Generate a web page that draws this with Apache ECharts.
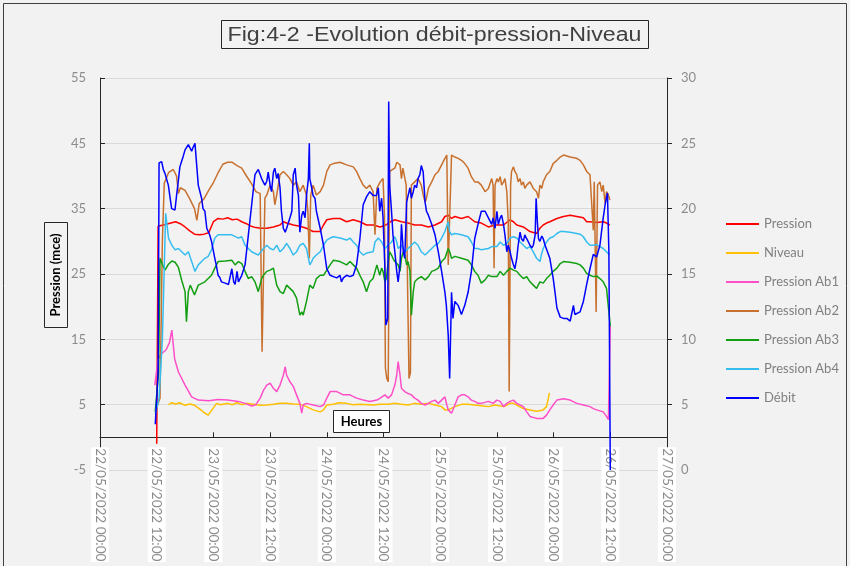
<!DOCTYPE html>
<html>
<head>
<meta charset="utf-8">
<script src="https://cdn.jsdelivr.net/npm/echarts@6/dist/echarts.min.js"></script>
<style>html,body{margin:0;padding:0;background:#f2f2f2;}#c{width:850px;height:566px;}</style>
</head>
<body>
<div id="c"></div>
<script>
// time in hours after 22/05/2022 12:00
const START_H = 12;
const xTickLabels = ['22/05/2022 00:00','22/05/2022 12:00','23/05/2022 00:00','23/05/2022 12:00','24/05/2022 00:00','24/05/2022 12:00','25/05/2022 00:00','25/05/2022 12:00','26/05/2022 00:00','26/05/2022 12:00','27/05/2022 00:00'];
const seriesNames = ['Pression','Niveau','Pression Ab1','Pression Ab2','Pression Ab3','Pression Ab4','Débit'];

const pression = [[0,-1],[0.3,32.3],[2,32.6],[3,32.8],[4,33.0],[5,32.7],[6,32.2],[7,31.6],[8,31.1],[9,31.0],[10,31.1],[11,31.3],[12,33.0],[13,33.5],[14,33.4],[15,33.6],[16,33.3],[17,33.4],[18,33.0],[19,32.7],[20,32.3],[21,32.1],[22,32.0],[23.3,32.0],[24.7,32.2],[26.1,32.5],[26.8,33.0],[27.5,32.8],[28.9,32.5],[30.3,32.3],[31.7,32.0],[33.1,31.5],[34.6,31.5],[35.3,32.5],[36,33.3],[37.4,33.5],[38.8,33.5],[40.2,33.0],[41.6,33.3],[43,33.0],[44.4,32.5],[45.8,32.5],[47.3,32.2],[48.5,32.5],[49.5,33.0],[50.4,33.3],[51.8,33.0],[53.2,32.8],[54.6,32.5],[56.0,32.5],[57.5,32.2],[58.9,32.5],[60.3,33.0],[61.0,33.8],[61.7,34.0],[62.4,33.5],[63.1,33.8],[64.5,33.5],[65.9,33.8],[67.3,33.0],[68.7,32.8],[70.2,32.2],[71.6,32.5],[73.4,32.5],[74.8,33.3],[75.5,33.0],[76.2,32.5],[77.6,32.2],[79.0,31.5],[80.4,31.2],[81.1,32.0],[81.8,32.5],[82.5,32.8],[83.2,33.0],[84.7,33.5],[86.1,33.8],[87.5,34.0],[88.9,33.8],[90.3,33.6],[91.0,33.0],[91.7,33.0],[93.1,32.9],[94.5,33.0],[95.2,32.8],[95.9,32.5]];

const niveau = [[2.5,5.0],[3.2,5.3],[4,5.1],[4.8,5.3],[6,4.9],[7,5.1],[8,4.9],[9,4.4],[10,3.8],[10.9,3.4],[12,4.5],[12.7,5.2],[13.5,5.0],[15,5.2],[16,5.0],[17,5.3],[18,5.0],[19,5.2],[20,5.1],[22,4.9],[23.3,4.95],[24.7,5.05],[26.1,5.2],[27.5,5.2],[28.9,5.1],[30.3,5.05],[31.7,4.7],[33.1,4.2],[34.6,3.9],[35.3,4.2],[36,4.95],[37.4,5.05],[38.5,5.3],[40.2,5.2],[41.5,5.0],[43,5.05],[45.8,4.95],[47.3,5.05],[49.0,5.05],[50.4,5.2],[51.8,5.05],[53.2,4.95],[54.6,5.2],[56.0,5.05],[57.5,5.2],[58.9,4.95],[60.3,4.7],[61.0,4.2],[61.7,4.2],[63.1,4.7],[64.5,5.05],[65.9,5.05],[67.3,4.95],[68.7,4.85],[70.2,4.7],[71.6,4.95],[72.0,5.05],[73.4,4.7],[74.1,4.95],[74.8,5.2],[75.5,5.2],[76.2,4.95],[77.6,4.4],[79.0,4.2],[80.4,4.0],[81.8,4.2],[82.5,4.7],[82.9,6.0],[83.1,6.8]];

const pressionAb1 = [[-0.4,8.0],[0.3,12.0],[1,12.8],[2,13.4],[2.7,14.5],[3.2,16.4],[3.8,12.0],[4.6,10.0],[6,8.0],[7.4,6.2],[8.8,5.7],[11,5.6],[13,5.8],[15,5.7],[17.3,5.5],[18.7,5.2],[20.1,4.8],[21,5.0],[21.9,6.0],[22.6,7.2],[23.3,8.0],[24.0,8.3],[24.7,7.5],[25.4,7.0],[26.1,8.0],[26.8,9.5],[27.2,10.8],[27.5,9.5],[28.2,8.5],[28.9,7.8],[29.6,6.5],[30.3,5.2],[30.7,3.7],[31.0,4.95],[31.7,5.2],[33.1,4.95],[34.6,4.7],[35.3,4.95],[36.0,6.0],[36.7,7.0],[38.1,7.0],[39.5,6.5],[40.9,6.5],[42.3,6.0],[43.7,5.7],[45.1,5.5],[46.6,5.7],[47.3,6.0],[48.3,6.5],[49.0,6.0],[49.7,6.5],[50.4,8.0],[50.8,9.5],[51.1,11.6],[51.5,9.5],[51.8,7.5],[52.5,7.0],[53.2,6.7],[53.9,6.5],[54.6,6.0],[55.3,5.7],[56.0,5.2],[56.8,4.95],[57.5,5.2],[58.2,5.5],[58.9,5.7],[59.6,5.2],[60.3,5.7],[61.0,6.2],[61.4,4.95],[61.7,4.2],[62.4,3.7],[63.1,4.95],[63.8,6.2],[64.5,6.5],[65.2,6.5],[65.9,6.2],[66.6,5.7],[67.3,5.5],[68.0,5.2],[68.7,5.2],[70.2,5.5],[71.2,5.2],[72.0,5.7],[72.7,5.5],[73.4,4.7],[74.1,5.2],[74.8,5.5],[75.5,5.7],[76.2,5.2],[77.6,4.7],[78.3,3.9],[79.0,3.2],[80.4,2.9],[81.8,2.9],[82.5,3.4],[83.2,4.2],[83.9,4.95],[84.7,5.7],[86.1,5.9],[87.5,5.7],[88.9,5.2],[90.3,4.95],[91.7,4.7],[92.4,4.4],[93.1,4.2],[94.5,3.9],[95.2,3.2],[95.6,2.7],[96,17]];

const pressionAb2 = [[-0.3,4],[0.7,6],[1.2,30],[1.6,38.9],[2.5,40.5],[3.5,41],[4.2,40],[4.6,37.3],[5,38.2],[6,37.8],[7,36.5],[8,35],[8.5,33.2],[9,35.8],[10,36.5],[11,37.8],[12,39],[13,40.5],[14,41.8],[15,42.1],[16,42.1],[17,41.6],[18,41.2],[19,40],[20,38.9],[21,37.6],[21.9,37.3],[22.3,13.1],[22.6,13.1],[22.9,36.6],[23.3,37.1],[24.0,38.6],[24.7,37.6],[25.0,35.6],[25.4,37.1],[26.1,40.2],[26.8,40.7],[27.5,40.2],[28.2,39.6],[28.9,38.6],[29.6,39.1],[30.3,37.6],[31.0,38.6],[31.7,37.1],[32.0,34.5],[32.3,27.4],[32.6,37.1],[33.1,38.6],[33.8,37.1],[34.6,37.6],[35.3,38.6],[36.0,40.7],[36.7,41.7],[37.4,41.9],[38.8,42.1],[40.2,41.7],[41.6,41.4],[42.3,40.7],[43.0,39.6],[43.7,38.6],[44.4,38.1],[45.1,38.6],[45.8,37.6],[46.2,31.0],[46.6,38.1],[47.3,39.1],[47.9,39.6],[48.2,34],[48.4,10.6],[48.7,9.0],[49.0,8.5],[49.3,40.7],[49.7,40.7],[50.4,41.2],[50.8,42.1],[51.1,42.4],[51.5,41.7],[51.8,39.6],[52.1,41.2],[52.5,40.9],[52.8,38.6],[53.1,23],[53.4,9.0],[53.7,9.9],[53.9,38.6],[54.3,38.6],[54.6,39.1],[55.3,39.6],[56.0,38.6],[56.4,37.1],[56.8,36.0],[57.1,36.6],[57.5,38.1],[58.2,39.1],[58.9,40.2],[59.6,40.7],[60.3,41.7],[61.0,42.7],[61.4,43.2],[61.7,26.4],[62.1,26.4],[62.4,43.2],[63.1,42.9],[63.8,42.7],[64.5,42.4],[65.2,41.9],[65.9,41.2],[66.6,39.9],[67.3,39.1],[68.0,39.1],[68.7,38.6],[69.5,37.6],[70.2,38.1],[70.9,39.6],[71.2,38.6],[71.4,25.9],[71.6,38.6],[72.0,39.6],[72.3,39.1],[72.7,39.9],[73.0,38.6],[73.4,39.1],[73.7,39.6],[74.1,37.6],[74.4,33],[74.6,7.0],[74.9,38.6],[75.1,40.7],[75.5,41.4],[75.8,40.7],[76.2,40.2],[76.5,39.1],[76.9,39.6],[77.2,38.6],[77.6,39.1],[77.9,38.1],[78.3,38.6],[79.0,39.1],[79.7,38.1],[80.4,37.6],[80.8,36.6],[81.1,38.6],[81.5,38.1],[81.8,39.1],[82.5,40.2],[83.2,40.7],[83.9,41.9],[84.7,42.4],[85.4,42.9],[86.1,43.2],[87.5,42.9],[88.9,42.7],[89.6,42.4],[90.3,41.7],[91.0,40.7],[91.7,40.2],[92.0,39.9],[92.4,31.7],[92.6,39.1],[93.0,19.2],[93.3,38.6],[93.8,39.1],[94.2,37.6],[94.5,38.6],[94.9,35.8],[95.2,37.6],[95.6,37.1],[95.9,36.3]];

const pressionAb3 = [[-0.3,3.9],[0.4,10],[0.7,27.4],[1.2,26.5],[1.75,25.6],[2.5,26.5],[3.2,27],[3.9,26.8],[4.6,26],[5.3,24],[6.0,22.3],[6.3,17.7],[6.7,22.3],[7.1,23.3],[7.4,22.8],[8,21.8],[8.8,23.3],[10.2,23.8],[11.6,24.8],[12.3,25.9],[13,26.9],[14.5,27],[15.9,27.1],[16.6,26.4],[17.3,26.9],[18,26.6],[18.7,25.4],[19.4,24.3],[20.1,24.6],[20.8,23.8],[21.5,22.3],[22.2,24.3],[22.6,24.8],[23.3,25.4],[24.0,25.6],[24.7,25.9],[25.4,23.3],[26.1,22.3],[26.8,22.0],[27.5,23.3],[28.2,22.8],[28.9,22.3],[29.6,21.3],[30.3,18.7],[30.7,19.2],[31.0,18.7],[31.7,20.8],[32.4,23.3],[33.1,22.8],[33.8,24.3],[34.6,24.8],[35.3,24.8],[36.0,25.6],[36.7,26.4],[37.4,27.1],[38.8,26.9],[40.2,26.4],[40.9,26.9],[41.6,26.4],[42.3,25.9],[43.0,24.8],[43.7,23.8],[44.4,22.3],[45.1,23.8],[45.8,24.3],[46.6,26.4],[47.2,24.8],[47.6,25.9],[47.9,25.4],[48.3,23.8],[48.6,24.3],[49.0,26.9],[49.3,28.4],[49.7,27.9],[50.0,27.4],[50.4,26.9],[51.1,26.4],[51.5,25.4],[51.8,27.4],[52.2,28.4],[52.5,27.9],[52.9,26.4],[53.2,26.9],[53.6,25.4],[53.9,18.7],[54.3,22.3],[54.6,23.8],[55.3,24.3],[56.0,24.6],[56.8,24.1],[57.5,24.6],[58.2,25.4],[58.9,25.6],[59.6,25.9],[60.3,26.9],[61.0,27.4],[61.7,28.9],[62.0,28.4],[62.4,27.4],[63.1,27.7],[64.5,27.4],[65.9,27.1],[66.6,26.4],[67.3,25.4],[68.0,24.8],[68.7,23.6],[69.5,24.1],[70.2,24.8],[70.9,24.6],[72.0,24.6],[72.7,25.4],[73.4,24.8],[74.1,25.4],[74.8,25.9],[75.5,25.6],[76.2,25.4],[76.9,24.8],[77.6,24.3],[78.3,24.6],[79.0,23.8],[79.7,23.3],[80.4,22.8],[81.1,23.8],[81.8,23.6],[82.5,24.3],[83.2,24.8],[83.9,25.4],[84.7,25.9],[85.4,26.6],[86.1,26.9],[87.5,26.8],[88.9,26.6],[89.6,26.4],[90.3,25.9],[91.0,25.1],[91.7,24.8],[92.4,24.6],[93.1,24.7],[93.8,24.3],[94.5,23.8],[95.2,22.8],[95.6,22.5],[96,17]];

const pressionAb4 = [[-0.3,3.5],[0.5,6],[1.2,15],[1.9,34.3],[2.5,30.5],[3.2,29.4],[3.9,28.7],[4.6,28.9],[5.3,28.4],[6.0,27.9],[6.7,28.4],[7.4,26.9],[8.1,25.4],[8.8,26.4],[9.5,26.9],[10.2,27.4],[10.9,27.7],[11.6,28.7],[12.3,30.5],[13,31],[14.5,31],[15.9,31],[17.3,30.5],[18,30.7],[18.7,29.4],[19.4,28.9],[20.1,28.4],[21.5,27.9],[22.6,28.9],[23.3,29.4],[24.0,28.9],[24.7,28.7],[25.4,29.4],[26.1,28.4],[26.8,28.9],[27.5,29.7],[28.2,28.9],[28.9,27.9],[29.6,28.4],[30.3,29.4],[31.0,29.7],[31.7,28.9],[32.4,26.4],[32.8,26.9],[33.1,27.4],[33.8,27.9],[34.6,28.4],[35.3,29.4],[36.0,30.2],[36.7,30.5],[37.4,30.7],[38.8,30.5],[40.2,30.2],[40.9,30.5],[41.6,29.9],[42.3,29.4],[43.0,28.4],[43.7,27.9],[44.4,28.2],[45.8,28.4],[46.2,29.9],[46.9,30.5],[47.6,29.9],[48.3,28.9],[49.0,29.4],[49.7,29.9],[50.4,30.7],[50.8,29.9],[51.1,28.9],[51.8,29.4],[52.5,28.4],[53.2,28.9],[53.9,29.4],[54.6,29.9],[55.3,29.4],[56.0,28.4],[56.8,27.9],[57.5,28.4],[58.2,28.9],[58.9,29.4],[59.6,29.7],[60.3,30.5],[61.0,31.5],[61.7,33.0],[62.0,31.5],[62.4,31.0],[63.1,31.2],[64.5,31.0],[65.9,30.7],[66.6,29.9],[67.3,28.9],[68.0,28.9],[68.7,28.7],[70.2,28.9],[70.9,29.2],[72.0,29.2],[72.7,29.9],[73.4,29.4],[74.1,29.7],[74.8,30.5],[75.5,30.7],[76.2,30.5],[76.9,29.9],[77.6,29.4],[78.3,28.9],[79.0,29.2],[79.7,28.4],[80.4,27.4],[81.1,26.9],[81.4,27.9],[81.8,28.9],[82.5,29.9],[83.2,30.5],[83.9,30.7],[84.7,31.2],[85.4,31.5],[86.1,31.5],[87.5,31.4],[88.9,31.2],[89.6,31.1],[90.3,30.7],[91.0,29.9],[91.7,29.4],[92.4,29.4],[93.1,29.5],[93.8,29.2],[94.5,28.9],[95.2,28.4],[95.8,27.9]];

const debit = [[-0.3,3.5],[0.3,7.5],[0.5,23.5],[1.05,23.6],[1.4,23.0],[1.75,22.7],[2.1,22.6],[2.46,21.8],[3.16,20.0],[3.87,19.9],[4.2,21.0],[4.57,22.1],[4.9,23.2],[5.28,23.3],[5.6,24.0],[6.0,24.5],[6.3,24.4],[6.7,24.9],[7.0,25.0],[7.4,24.4],[7.7,24.7],[8.1,25.0],[8.5,24.9],[8.8,21.8],[9.5,20.8],[9.8,20.0],[10.2,19.8],[10.6,18.5],[11.2,18.0],[11.6,17.5],[12.3,16.2],[12.6,15.7],[13.0,14.9],[13.4,14.7],[13.7,14.4],[14.5,14.3],[15.2,14.2],[15.9,15.4],[16.3,14.4],[16.6,14.2],[17.0,15.2],[17.3,14.4],[18.0,14.9],[18.7,15.7],[19.4,18.0],[20.1,20.3],[20.8,22.6],[21.5,23.0],[22.2,22.3],[22.9,21.8],[23.3,22.1],[23.6,22.8],[24.0,21.8],[24.3,21.3],[24.7,22.8],[25.0,23.1],[25.4,22.3],[25.7,22.7],[26.1,21.6],[26.4,19.8],[26.8,18.5],[27.2,18.2],[27.5,18.5],[27.9,18.4],[28.2,19.3],[28.6,19.8],[28.9,22.6],[29.3,23.1],[29.6,21.8],[30.0,21.0],[30.3,18.2],[30.7,19.5],[31.0,19.8],[31.4,19.3],[31.7,21.0],[32.1,22.3],[32.3,25.0],[32.4,22.3],[32.8,21.6],[33.1,21.0],[33.5,20.8],[33.8,19.8],[34.6,18.5],[35.3,17.2],[36.0,15.4],[36.7,14.9],[37.4,14.8],[38.1,14.7],[38.8,14.9],[39.1,14.4],[39.5,14.7],[40.2,14.9],[40.9,14.8],[41.6,14.9],[42.3,15.7],[43.0,17.7],[43.7,20.3],[44.4,20.9],[45.1,21.3],[45.8,21.0],[46.5,21.0],[46.9,21.6],[47.2,19.8],[47.6,20.8],[47.9,19.3],[48.3,15.4],[48.5,11.1],[48.9,11.6],[49.1,28.2],[49.3,21.8],[49.7,19.8],[50.0,18.0],[50.4,16.7],[50.8,15.2],[51.1,14.4],[51.5,15.7],[51.8,18.8],[52.2,16.7],[52.5,16.2],[52.9,20.5],[53.2,21.0],[53.6,21.6],[53.9,20.8],[54.3,21.3],[54.6,21.8],[55.0,21.6],[55.3,22.3],[55.7,22.6],[56.0,23.3],[56.4,22.8],[56.8,20.5],[57.1,19.8],[57.5,19.5],[58.2,18.8],[58.9,18.0],[59.6,16.7],[60.3,15.2],[61.0,13.6],[61.3,12.6],[61.7,10.3],[62.0,7.0],[62.4,13.6],[62.7,11.6],[63.1,12.9],[63.8,12.6],[64.5,11.9],[65.2,12.6],[65.9,13.6],[66.6,15.2],[67.3,17.7],[68.0,18.8],[68.7,19.8],[69.5,19.8],[70.2,19.3],[70.9,18.8],[71.2,19.3],[71.6,18.5],[72.0,19.8],[72.3,18.8],[72.7,19.3],[73.0,19.5],[73.4,18.8],[73.7,18.0],[74.1,16.7],[74.4,17.2],[74.8,16.7],[75.1,16.2],[75.5,15.7],[75.8,15.4],[76.2,16.2],[76.5,17.2],[76.9,18.2],[77.2,17.7],[77.6,17.5],[77.9,18.0],[78.3,17.7],[78.6,17.5],[79.0,17.2],[79.4,17.0],[79.7,17.2],[80.1,18.0],[80.3,20.8],[80.6,18.8],[80.8,17.7],[81.1,17.5],[81.5,17.9],[81.8,17.7],[82.2,17.2],[82.5,17.2],[83.2,16.2],[83.9,14.7],[84.3,13.6],[84.7,12.4],[85.4,11.7],[86.1,11.6],[86.8,11.6],[87.5,11.4],[87.8,11.9],[88.2,12.6],[88.5,11.9],[88.9,11.9],[89.6,12.1],[90.3,12.9],[91.0,14.2],[91.7,15.4],[92.4,16.5],[93.1,16.3],[93.8,17.2],[94.5,19.3],[94.9,20.3],[95.4,21.2],[95.7,16.7],[96.0,0]];

const seriesData = [pression, niveau, pressionAb1, pressionAb2, pressionAb3, pressionAb4, debit];
const colors = ['#ff0000','#ffc000','#ff4fc8','#c8702e','#12a012','#36bdf0','#0000ff'];

const chart = echarts.init(document.getElementById('c'), null, {renderer:'canvas'});
const grey = '#8c8c8c';
// x axis crosses the left value axis at 0: offset = (0 - min) share of grid height
const gridTop = 78, gridBottom = 96, gridH = 566 - gridTop - gridBottom;
const yMin = -5, yMax = 55;
const xAxisOffset = -gridH * (0 - yMin) / (yMax - yMin);
chart.setOption({
  backgroundColor: '#f2f2f2',
  animation: false,
  grid: {left: 100, right: 183, top: gridTop, bottom: gridBottom, containLabel: false, outerBoundsMode: 'none'},
  legend: {
    orient: 'vertical', left: 721, top: 211,
    itemWidth: 33, itemHeight: 2, itemGap: 13, icon: 'rect',
    textStyle: {color: '#808080', fontSize: 13, fontFamily: 'Lato', lineHeight: 16},
    data: seriesNames
  },
  xAxis: {
    type: 'value', min: 0, max: 120, interval: 12, offset: xAxisOffset,
    axisLine: {onZero: false, lineStyle: {color: '#262626', width: 1}},
    axisTick: {show: true, inside: true, length: 5, lineStyle: {color: '#262626'}},
    splitLine: {show: false},
    axisLabel: {
      rotate: -90, margin: 10, color: grey, fontSize: 13.5, fontFamily: 'Lato',
      backgroundColor: '#ffffff', padding: [1, 1], lineHeight: 16,
      formatter: v => xTickLabels[Math.round(v / 12)] || ''
    }
  },
  yAxis: [
    {
      type: 'value', min: yMin, max: yMax, interval: 10,
      axisLine: {show: true, lineStyle: {color: '#262626'}},
      axisTick: {show: true, inside: true, length: 5, lineStyle: {color: '#262626'}},
      splitLine: {show: true, lineStyle: {color: '#d9d9d9', width: 1}},
      axisLabel: {margin: 14, color: grey, fontSize: 13, fontFamily: 'Lato'}
    },
    {
      type: 'value', min: 0, max: 30, interval: 5, position: 'right',
      axisLine: {show: true, lineStyle: {color: '#262626'}},
      axisTick: {show: true, inside: false, length: 5, lineStyle: {color: '#262626'}},
      splitLine: {show: false},
      axisLabel: {margin: 14, color: grey, fontSize: 13, fontFamily: 'Lato'}
    }
  ],
  series: seriesNames.map((name, i) => ({
    name: name, type: 'line', yAxisIndex: i === 6 ? 1 : 0,
    showSymbol: false, symbol: 'none',
    color: colors[i],
    lineStyle: {color: colors[i], width: 1.5},
    data: seriesData[i].map(p => [START_H + p[0], p[1]])
  })),
  graphic: [
    {type: 'rect', shape: {x: 3.5, y: 3.5, width: 843, height: 600}, style: {fill: 'none', stroke: '#404040', lineWidth: 1}, silent: true},
    {type: 'rect', shape: {x: 221.5, y: 20.5, width: 427, height: 28}, style: {fill: 'none', stroke: '#262626', lineWidth: 1}},
    {type: 'text', x: 434.5, y: 35, scaleX: 1.16, style: {text: 'Fig:4-2 -Evolution débit-pression-Niveau', font: '20px "Liberation Sans"', fill: '#404040', align: 'center', verticalAlign: 'middle'}},
    {type: 'rect', shape: {x: 44.5, y: 222.5, width: 23, height: 105}, style: {fill: 'none', stroke: '#262626', lineWidth: 1}},
    {type: 'text', x: 56, y: 275, rotation: Math.PI / 2, style: {text: 'Pression (mce)', font: 'bold 13px Lato', fill: '#000', align: 'center', verticalAlign: 'middle'}},
    {type: 'rect', shape: {x: 333.5, y: 410.5, width: 56, height: 22}, style: {fill: '#ffffff', stroke: '#262626', lineWidth: 1}, z: 10},
    {type: 'text', x: 361.5, y: 421.5, style: {text: 'Heures', font: 'bold 13px Lato', fill: '#000', align: 'center', verticalAlign: 'middle'}, z: 11}
  ]
});
</script>
</body>
</html>
